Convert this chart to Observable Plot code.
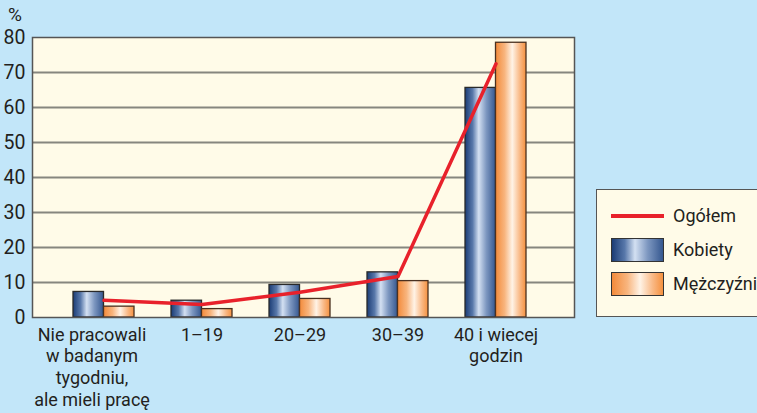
<!DOCTYPE html>
<html>
<head>
<meta charset="utf-8">
<script src="https://cdn.jsdelivr.net/npm/d3@7"></script>
<script src="https://cdn.jsdelivr.net/npm/@observablehq/plot@0.6"></script>
<style>
  html, body { margin: 0; padding: 0; background: #c2e6f9; }
  body { width: 757px; height: 413px; overflow: hidden; position: relative; font-family: Roboto, "Open Sans", sans-serif; color: #231f20; }
  #unit { position: absolute; left: 8px; top: 4px; font-size: 19px; line-height: 22px; }
  #legend { position: absolute; left: 596px; top: 189px; width: 170px; height: 128px; background: #fffbe8; border: 1.5px solid #555; box-sizing: border-box; }
  .item { position: absolute; left: 14px; display: flex; align-items: center; font-size: 18px; line-height: 24px; }
  .sw { width: 53px; height: 24px; box-sizing: border-box; border: 1.5px solid #333; margin-right: 9px; }
  .ln { width: 53px; height: 3.5px; background: #e8212b; margin-right: 9px; }
</style>
</head>
<body>
<div id="unit">%</div>
<div id="chart"></div>
<div id="legend">
  <div class="item" style="top:14px"><div class="ln"></div><span>Ogółem</span></div>
  <div class="item" style="top:48px"><div class="sw" style="background:linear-gradient(90deg,#1b3c75 0%,#5878aa 25%,#d3e0f2 45%,#7d97c0 70%,#35578f 100%)"></div><span>Kobiety</span></div>
  <div class="item" style="top:82px"><div class="sw" style="background:linear-gradient(90deg,#f38a3a 0%,#f8b57e 30%,#fff3e6 55%,#f9b884 80%,#f5913f 100%)"></div><span>Mężczyźni</span></div>
</div>
<script>
const categories = ["Nie pracowali\nw badanym\ntygodniu,\nale mieli pracę", "1–19", "20–29", "30–39", "40 i wiecej\ngodzin"];
const kobiety = [7.3, 4.8, 9.3, 12.9, 65.6];
const mezczyzni = [3.1, 2.4, 5.3, 10.4, 78.5];
const ogolem = [4.9, 3.7, 7.2, 11.7, 72.5];
const yTicks = [0, 10, 20, 30, 40, 50, 60, 70, 80];

const rows = categories.map((c, i) => ({cat: c, k: kobiety[i], m: mezczyzni[i], o: ogolem[i]}));

const xAxisStyle = {tickSize: 0, tickPadding: 8, fontSize: 18, lineHeight: 1.2, textAnchor: "middle"};

const plot = Plot.plot({
  width: 757,
  height: 413,
  marginLeft: 32,
  marginRight: 183,
  marginTop: 37,
  marginBottom: 96,
  style: {background: "transparent", fontFamily: "Roboto, 'Open Sans', sans-serif", color: "#231f20"},
  x: {domain: categories, padding: 0.38, insetLeft: 2, insetRight: 10, label: null},
  y: {domain: [0, 80], label: null},
  marks: [
    Plot.frame({fill: "#fffbe8", stroke: null}),
    Plot.gridY(yTicks.slice(1, -1), {stroke: "#86867e", strokeWidth: 2, strokeOpacity: 1}),
    Plot.barY(rows, {x: "cat", y: "k", insetRight: 30.5, fill: "url(#gradK)", stroke: "#2a2a2a", strokeWidth: 1.3}),
    Plot.barY(rows, {x: "cat", y: "m", insetLeft: 30.5, fill: "url(#gradM)", stroke: "#4a3020", strokeWidth: 1.3}),
    Plot.line(rows, {x: "cat", y: "o", stroke: "#e8212b", strokeWidth: 3.5}),
    Plot.frame({stroke: "#555", strokeWidth: 1.5}),
    Plot.axisY({ticks: yTicks, tickSize: 0, tickPadding: 7, fontSize: 19.5, anchor: "left"}),
    Plot.axisX(categories.slice(0, 1), {...xAxisStyle, dx: -12}),
    Plot.axisX(categories.slice(1), xAxisStyle)
  ]
});

const ns = "http://www.w3.org/2000/svg";
const defs = document.createElementNS(ns, "defs");
function grad(id, stops) {
  const g = document.createElementNS(ns, "linearGradient");
  g.setAttribute("id", id);
  g.setAttribute("x1", "0"); g.setAttribute("x2", "1"); g.setAttribute("y1", "0"); g.setAttribute("y2", "0");
  stops.forEach(([o, c]) => {
    const s = document.createElementNS(ns, "stop");
    s.setAttribute("offset", o); s.setAttribute("stop-color", c);
    g.appendChild(s);
  });
  defs.appendChild(g);
}
grad("gradK", [[0, "#1b3c75"], [0.25, "#5878aa"], [0.45, "#d3e0f2"], [0.7, "#7d97c0"], [1, "#35578f"]]);
grad("gradM", [[0, "#f38a3a"], [0.3, "#f8b57e"], [0.55, "#fff3e6"], [0.8, "#f9b884"], [1, "#f5913f"]]);
plot.insertBefore(defs, plot.firstChild);
document.getElementById("chart").appendChild(plot);
</script>
</body>
</html>
